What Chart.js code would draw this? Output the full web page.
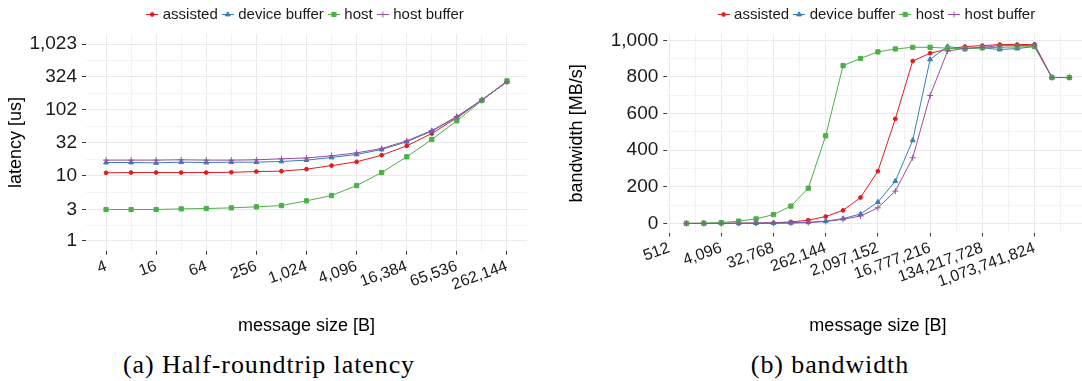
<!DOCTYPE html>
<html>
<head>
<meta charset="utf-8">
<title>latency and bandwidth</title>
<script src="https://cdn.jsdelivr.net/npm/chart.js@4.4.1/dist/chart.umd.min.js"></script>
<style>
  html, body { margin: 0; padding: 0; background: #fff; overflow: hidden; }
  body { width: 1082px; height: 381px; position: relative; }
  #latency { position: absolute; left: 0; top: 0; }
  #bandwidth { position: absolute; left: 540px; top: 0; }
  .caption {
    position: absolute; top: 350px;
    font-family: "Liberation Serif", "Times New Roman", serif;
    font-size: 26px; letter-spacing: 0.9px; color: #000;
    white-space: nowrap; transform: translateX(-50%);
  }
</style>
</head>
<body>
<canvas id="latency" width="540" height="345"></canvas>
<canvas id="bandwidth" width="560" height="345"></canvas>
<div class="caption" style="left:269px">(a) Half-roundtrip latency</div>
<div class="caption" style="left:830px">(b) bandwidth</div>
<script>
  const seriesNames = ["assisted", "device buffer", "host", "host buffer"];
  const seriesColors = ["#E41A1C", "#377EB8", "#4DAF4A", "#984EA3"];
  const seriesMarkers = ["circle", "triangle", "rect", "cross"];
  const markerRadius = [1.9, 2.8, 3, 3];

  // half-roundtrip latency [us], message sizes 4 B .. 256 KiB
  const latencySizes = [4, 8, 16, 32, 64, 128, 256, 512, 1024, 2048, 4096, 8192, 16384, 32768, 65536, 131072, 262144];
  const latencyAssisted = [11.0, 11.1, 11.1, 11.1, 11.1, 11.2, 11.5, 11.65, 12.5, 14.2, 16.2, 20.5, 28.4, 43.9, 76, 143, 270];
  const latencyDeviceBuffer = [15.8, 15.8, 15.6, 16.0, 15.8, 16.0, 16.0, 16.4, 17.2, 18.9, 21.0, 25.0, 32.8, 47.7, 78, 143, 272];
  const latencyHost = [3.02, 3.02, 3.02, 3.09, 3.13, 3.20, 3.32, 3.47, 4.10, 4.94, 7.03, 11.1, 19.3, 35.6, 68.7, 140, 280];
  const latencyHostBuffer = [17.2, 17.2, 17.2, 17.4, 17.2, 17.2, 17.4, 18.0, 18.6, 20.0, 22.2, 25.9, 33.9, 48.8, 80, 144, 272];
  const latencyXTicks = [4, 16, 64, 256, 1024, 4096, 16384, 65536, 262144];
  const latencyYTicks = [1, 3, 10, 32, 102, 324, 1023];

  // bandwidth [MB/s], message sizes 1 KiB .. 4 GiB
  const bandwidthSizes = [1024, 2048, 4096, 8192, 16384, 32768, 65536, 131072, 262144, 524288,
    1048576, 2097152, 4194304, 8388608, 16777216, 33554432, 67108864, 134217728, 268435456,
    536870912, 1073741824, 2147483648, 4294967296];
  const bandwidthAssisted = [0.5, 0.9, 1.4, 2, 2.5, 4, 9, 18, 38, 72, 142, 286, 571, 887, 930, 952, 966, 971, 977, 977, 978, 797, 797];
  const bandwidthDeviceBuffer = [0.3, 0.6, 1, 1.5, 2, 3, 4, 7, 13, 27, 52, 117, 231, 454, 896, 966, 955, 959, 950, 955, 966, 797, 797];
  const bandwidthHost = [1, 2, 5, 13, 25, 49, 95, 193, 479, 862, 901, 937, 953, 962, 962, 957, 953, 959, 962, 964, 966, 797, 797];
  const bandwidthHostBuffer = [0.2, 0.4, 0.6, 0.9, 1.2, 1.6, 2, 5, 11, 23, 41, 86, 177, 359, 699, 941, 957, 962, 971, 971, 973, 797, 797];
  const bandwidthXTicks = [512, 4096, 32768, 262144, 2097152, 16777216, 134217728, 1073741824];
  const bandwidthYTicks = [0, 200, 400, 600, 800, 1000];

  const SANS = '"Liberation Sans", Arial, sans-serif';
  const TEXT = "#1a1a1a";
  const MAJOR_GRID = "#EAEAEA";
  const MINOR_GRID = "#F3F3F3";
  const TICK_COLOR = "#3a3a3a";

  const fmt = v => Number(v).toLocaleString("en-US");

  function logMidpoints(vals) {
    const n = vals.length;
    const out = [];
    for (let i = 0; i < n - 1; i++) out.push(Math.sqrt(vals[i] * vals[i + 1]));
    out.push(vals[0] / Math.sqrt(vals[1] / vals[0]));
    out.push(vals[n - 1] * Math.sqrt(vals[n - 1] / vals[n - 2]));
    return out;
  }
  function linMidpoints(vals) {
    const n = vals.length;
    const out = [];
    for (let i = 0; i < n - 1; i++) out.push((vals[i] + vals[i + 1]) / 2);
    out.push(vals[0] - (vals[1] - vals[0]) / 2);
    out.push(vals[n - 1] + (vals[n - 1] - vals[n - 2]) / 2);
    return out;
  }

  function gridOptions(majorSet) {
    const isMajor = c => c.tick && majorSet.has(c.tick.value);
    return {
      color: c => (isMajor(c) ? MAJOR_GRID : MINOR_GRID),
      tickColor: c => (isMajor(c) ? TICK_COLOR : "rgba(0,0,0,0)"),
      lineWidth: 1,
      tickLength: 4,
      drawTicks: true
    };
  }

  // axis with ggplot-like major/minor breaks; only majors get a label
  function axis(opts) {
    const majorSet = new Set(opts.major);
    const minor = (opts.type === "logarithmic" ? logMidpoints(opts.major) : linMidpoints(opts.major))
      .filter(v => v > opts.min && v < opts.max);
    const all = opts.major.concat(minor).sort((a, b) => a - b);
    const horizontal = opts.position === "bottom";
    return {
      type: opts.type,
      position: opts.position,
      min: opts.min,
      max: opts.max,
      bounds: "data",
      afterBuildTicks: s => { s.ticks = all.map(v => ({ value: v })); },
      afterFit: s => { if (horizontal) s.height = opts.size; else s.width = opts.size; },
      ticks: {
        autoSkip: false,
        minRotation: horizontal ? 20 : 0,
        maxRotation: horizontal ? 20 : 0,
        padding: horizontal ? 2 : 5,
        color: TEXT,
        font: { family: SANS, size: horizontal ? 16 : 19 },
        callback: v => (majorSet.has(v) ? fmt(v) : "")
      },
      grid: gridOptions(majorSet),
      border: { display: false },
      title: {
        display: true,
        text: opts.title,
        color: "#000",
        font: { family: SANS, size: 18 },
        padding: horizontal ? { top: 0, bottom: 8 } : { top: opts.titleGap, bottom: 0 }
      }
    };
  }

  // small line + marker key for the legend
  function legendKey(i) {
    const c = document.createElement("canvas");
    c.width = 12;
    c.height = 9;
    const ctx = c.getContext("2d");
    ctx.strokeStyle = seriesColors[i];
    ctx.fillStyle = seriesColors[i];
    ctx.lineWidth = 1;
    ctx.beginPath();
    ctx.moveTo(0, 4.5);
    ctx.lineTo(12, 4.5);
    ctx.stroke();
    Chart.helpers.drawPoint(ctx, { pointStyle: seriesMarkers[i], radius: markerRadius[i], borderWidth: 1, rotation: 0 }, 6, 4.5);
    return c;
  }
  const legendKeys = seriesNames.map((_, i) => legendKey(i));

  // a little more room between the legend row and the panel
  const legendGap = {
    id: "legendGap",
    beforeLayout(chart) {
      const legend = chart.legend;
      if (!legend || legend._gapAdded) return;
      const fit = legend.fit;
      legend.fit = function () { fit.call(this); this.height += 2.3; };
      legend._gapAdded = true;
    }
  };

  function datasets(sizes, columns) {
    return columns.map((vals, i) => ({
      label: seriesNames[i],
      data: sizes.map((x, k) => ({ x, y: vals[k] })),
      borderColor: seriesColors[i],
      backgroundColor: seriesColors[i],
      borderWidth: 1,
      tension: 0,
      pointStyle: seriesMarkers[i],
      pointRadius: markerRadius[i],
      pointBorderWidth: 1,
      pointBackgroundColor: seriesColors[i],
      pointBorderColor: seriesColors[i],
      order: columns.length - i
    }));
  }

  function makeChart(id, data, xAxis, yAxis, padRight) {
    return new Chart(document.getElementById(id), {
      type: "line",
      data: { datasets: data },
      plugins: [legendGap],
      options: {
        responsive: false,
        animation: false,
        devicePixelRatio: 1,
        layout: { padding: { top: 0, left: 0, right: padRight, bottom: 0 } },
        scales: { x: xAxis, y: yAxis },
        plugins: {
          tooltip: { enabled: false },
          legend: {
            position: "top",
            fullSize: false,
            labels: {
              usePointStyle: true,
              pointStyleWidth: 6,
              padding: 7,
              color: TEXT,
              font: { family: SANS, size: 15 },
              generateLabels: chart => chart.data.datasets.map((ds, i) => ({
                text: ds.label,
                pointStyle: legendKeys[i],
                fillStyle: ds.borderColor,
                strokeStyle: ds.borderColor,
                fontColor: TEXT,
                lineWidth: 0,
                hidden: false,
                datasetIndex: i
              }))
            }
          }
        }
      }
    });
  }

  makeChart(
    "latency",
    datasets(latencySizes, [latencyAssisted, latencyDeviceBuffer, latencyHost, latencyHostBuffer]),
    axis({ type: "logarithmic", position: "bottom", min: Math.pow(2, 1.2), max: Math.pow(2, 18.8),
           major: latencyXTicks, size: 94.3, title: "message size [B]" }),
    axis({ type: "logarithmic", position: "left", min: Math.pow(10, -0.15), max: Math.pow(10, 3.16),
           major: latencyYTicks, size: 86, title: "latency [us]", titleGap: 5 }),
    13
  );

  makeChart(
    "bandwidth",
    datasets(bandwidthSizes, [bandwidthAssisted, bandwidthDeviceBuffer, bandwidthHost, bandwidthHostBuffer]),
    axis({ type: "logarithmic", position: "bottom", min: Math.pow(2, 8.9), max: Math.pow(2, 33.1),
           major: bandwidthXTicks, size: 112.5, title: "message size [B]" }),
    axis({ type: "linear", position: "left", min: -49, max: 1033,
           major: bandwidthYTicks, size: 127.3, title: "bandwidth [MB/s]", titleGap: 26 }),
    11.5
  );
</script>
</body>
</html>
